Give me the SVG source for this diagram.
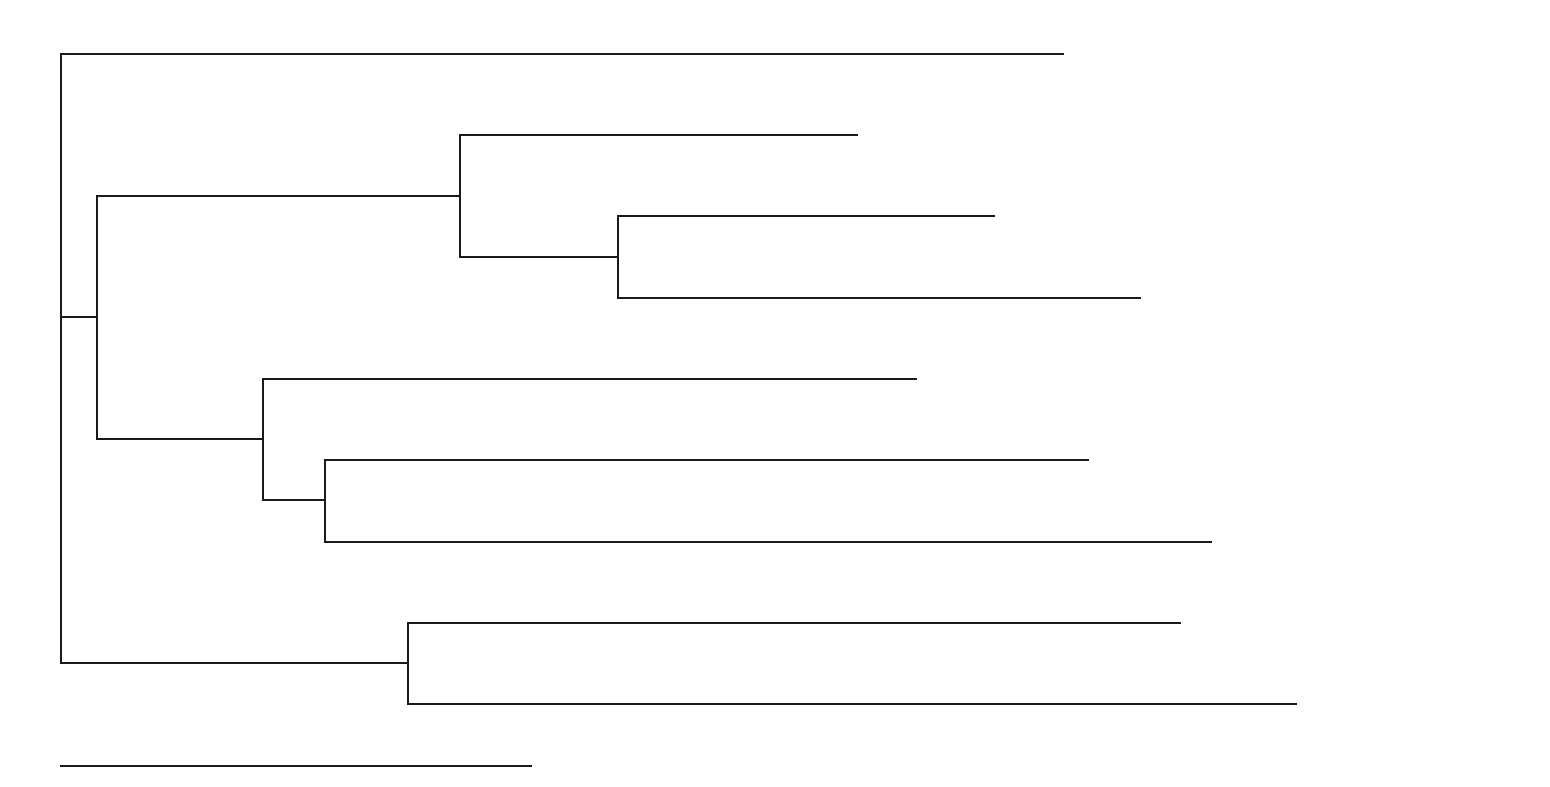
<svg xmlns="http://www.w3.org/2000/svg" width="1550" height="787" viewBox="0 0 1550 787">
<style>
.e{fill:none;stroke:#1a1a1a;stroke-width:2;stroke-linecap:square}
</style>
<rect width="1550" height="787" fill="#fff"/>
<g id="connectors">
<path class="e" d="M61 54V663"/>
<path class="e" d="M61 54H1063"/>
<path class="e" d="M61 317H97"/>
<path class="e" d="M97 196V439"/>
<path class="e" d="M97 196H460"/>
<path class="e" d="M460 135V257"/>
<path class="e" d="M460 135H857"/>
<path class="e" d="M460 257H618"/>
<path class="e" d="M618 216V298"/>
<path class="e" d="M618 216H994"/>
<path class="e" d="M618 298H1140"/>
<path class="e" d="M97 439H263"/>
<path class="e" d="M263 379V500"/>
<path class="e" d="M263 379H916"/>
<path class="e" d="M263 500H325"/>
<path class="e" d="M325 460V542"/>
<path class="e" d="M325 460H1088"/>
<path class="e" d="M325 542H1211"/>
<path class="e" d="M61 663H408"/>
<path class="e" d="M408 623V704"/>
<path class="e" d="M408 623H1180"/>
<path class="e" d="M408 704H1296"/>
</g>
<g id="scale-bar">
<path class="e" d="M61 766H531"/>
</g>
</svg>
